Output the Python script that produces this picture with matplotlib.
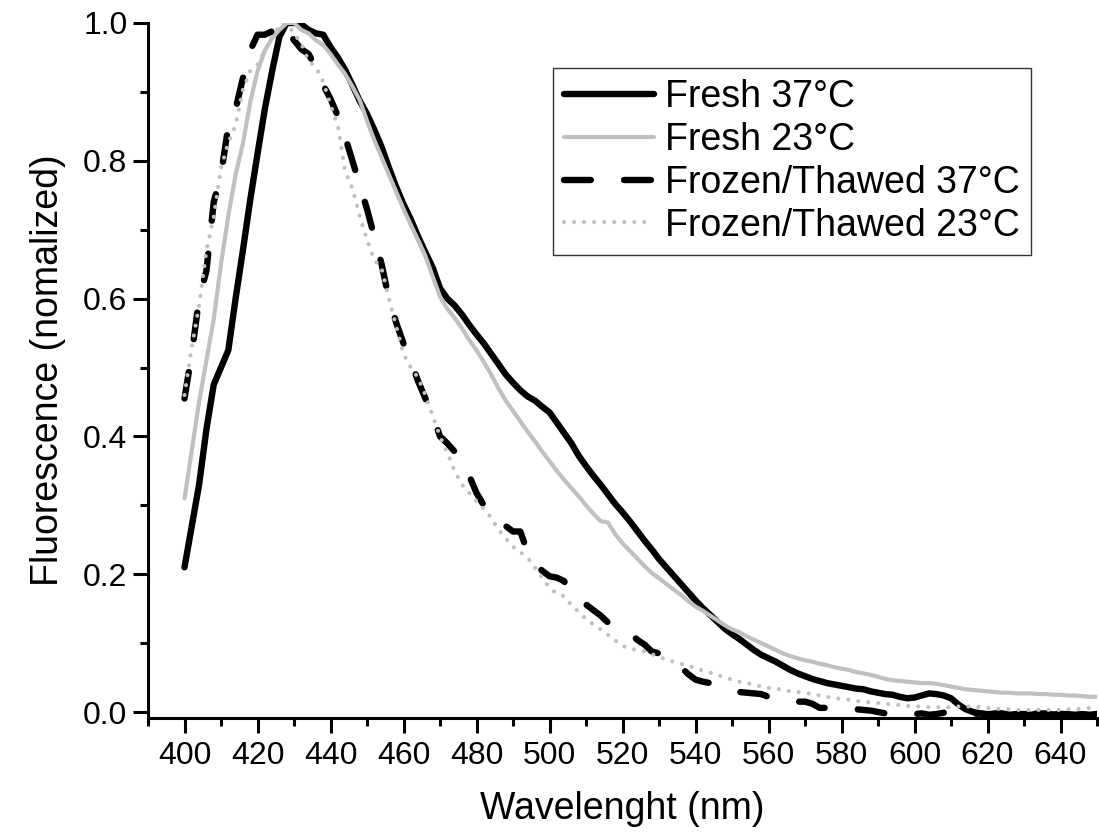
import matplotlib
matplotlib.use("Agg")
import matplotlib.pyplot as plt
import numpy as np
from matplotlib.ticker import MultipleLocator

plt.rcParams['font.family'] = ['Liberation Sans', 'DejaVu Sans']

# wavelength grid (nm)
wavelength = np.arange(400, 651, 2)

fresh_37 = [
    0.210, 0.270, 0.330, 0.410, 0.475, 0.500, 0.525, 0.600, 0.670, 0.743,
    0.810, 0.875, 0.930, 0.980, 1.000, 1.000, 0.998, 0.990, 0.985, 0.983,
    0.965, 0.950, 0.932, 0.910, 0.887, 0.868, 0.845, 0.820, 0.790, 0.762,
    0.737, 0.715, 0.690, 0.667, 0.645, 0.615, 0.600, 0.590, 0.577, 0.562,
    0.548, 0.535, 0.520, 0.505, 0.490, 0.478, 0.467, 0.458, 0.452, 0.443,
    0.435, 0.420, 0.405, 0.390, 0.372, 0.357, 0.343, 0.330, 0.316, 0.302,
    0.290, 0.277, 0.263, 0.249, 0.236, 0.222, 0.210, 0.198, 0.186, 0.174,
    0.162, 0.151, 0.141, 0.131, 0.121, 0.113, 0.106, 0.098, 0.090, 0.083,
    0.078, 0.073, 0.067, 0.061, 0.056, 0.052, 0.048, 0.045, 0.042, 0.040,
    0.038, 0.036, 0.034, 0.033, 0.030, 0.028, 0.026, 0.025, 0.022, 0.020,
    0.021, 0.024, 0.027, 0.026, 0.024, 0.020, 0.011, 0.004, 0.000, -0.002,
    -0.003, -0.003, -0.002, -0.004, -0.003, -0.003, -0.004, -0.002, -0.003, -0.004,
    -0.003, -0.003, -0.004, -0.003, -0.004, -0.003,
]

fresh_23 = [
    0.310, 0.380, 0.450, 0.510, 0.570, 0.650, 0.720, 0.780, 0.825, 0.885,
    0.930, 0.960, 0.978, 0.990, 1.000, 1.000, 0.990, 0.985, 0.975, 0.968,
    0.955, 0.940, 0.926, 0.908, 0.888, 0.858, 0.830, 0.805, 0.780, 0.755,
    0.730, 0.707, 0.685, 0.662, 0.632, 0.603, 0.585, 0.572, 0.557, 0.540,
    0.525, 0.508, 0.490, 0.470, 0.452, 0.437, 0.422, 0.407, 0.393, 0.378,
    0.364, 0.350, 0.337, 0.325, 0.313, 0.300, 0.288, 0.277, 0.275, 0.258,
    0.245, 0.234, 0.223, 0.212, 0.202, 0.194, 0.186, 0.178, 0.170, 0.161,
    0.153, 0.147, 0.140, 0.133, 0.126, 0.120, 0.116, 0.110, 0.105, 0.100,
    0.095, 0.090, 0.085, 0.081, 0.078, 0.075, 0.073, 0.070, 0.068, 0.065,
    0.063, 0.061, 0.058, 0.056, 0.054, 0.051, 0.048, 0.046, 0.045, 0.044,
    0.043, 0.042, 0.042, 0.041, 0.039, 0.037, 0.035, 0.033, 0.032, 0.031,
    0.030, 0.029, 0.028, 0.028, 0.027, 0.027, 0.027, 0.026, 0.026, 0.025,
    0.025, 0.024, 0.024, 0.023, 0.022, 0.022,
]

frozen_37 = [
    0.455, 0.520, 0.600, 0.640, 0.740, 0.780, 0.850, 0.875, 0.920, 0.960,
    0.983, 0.983, 0.988, 1.000, 0.990, 0.975, 0.962, 0.955, 0.935, 0.910,
    0.890, 0.865, 0.835, 0.800, 0.765, 0.730, 0.690, 0.650, 0.600, 0.565,
    0.535, 0.510, 0.480, 0.455, 0.430, 0.400, 0.390, 0.378, 0.360, 0.343,
    0.318, 0.300, 0.290, 0.280, 0.270, 0.262, 0.262, 0.232, 0.215, 0.205,
    0.197, 0.195, 0.190, 0.170, 0.160, 0.156, 0.148, 0.140, 0.130, 0.125,
    0.120, 0.115, 0.105, 0.098, 0.088, 0.085, 0.078, 0.074, 0.065, 0.055,
    0.047, 0.044, 0.042, 0.040, 0.036, 0.032, 0.029, 0.028, 0.027, 0.026,
    0.022, 0.018, 0.016, 0.015, 0.015, 0.015, 0.012, 0.006, 0.006, 0.006,
    0.006, 0.005, 0.004, 0.003, 0.002, 0.000, -0.002, -0.003, -0.004, -0.002,
    -0.003, -0.002, -0.004, -0.003, -0.001, -0.004, -0.003, 0.000, -0.003, -0.002,
    -0.004, -0.002, -0.003, -0.001, -0.003, -0.004, -0.002, -0.003, -0.002, -0.004,
    -0.003, -0.002, -0.003, -0.004, -0.003, -0.003,
]

frozen_23 = [
    0.460, 0.530, 0.590, 0.670, 0.718, 0.790, 0.826, 0.852, 0.903, 0.930,
    0.940, 0.960, 0.980, 0.995, 1.000, 0.985, 0.970, 0.945, 0.936, 0.915,
    0.881, 0.852, 0.785, 0.760, 0.720, 0.685, 0.656, 0.644, 0.600, 0.560,
    0.520, 0.500, 0.485, 0.460, 0.430, 0.400, 0.376, 0.350, 0.330, 0.318,
    0.306, 0.295, 0.282, 0.265, 0.252, 0.240, 0.232, 0.224, 0.210, 0.195,
    0.180, 0.172, 0.168, 0.155, 0.145, 0.135, 0.127, 0.120, 0.112, 0.104,
    0.096, 0.092, 0.090, 0.088, 0.084, 0.080, 0.076, 0.073, 0.070, 0.067,
    0.064, 0.060, 0.057, 0.054, 0.050, 0.047, 0.044, 0.042, 0.040, 0.037,
    0.035, 0.034, 0.032, 0.030, 0.029, 0.028, 0.026, 0.024, 0.022, 0.020,
    0.019, 0.018, 0.016, 0.015, 0.014, 0.013, 0.012, 0.011, 0.010, 0.009,
    0.008, 0.008, 0.007, 0.007, 0.007, 0.007, 0.008, 0.008, 0.008, 0.007,
    0.006, 0.005, 0.004, 0.004, 0.003, 0.003, 0.003, 0.003, 0.003, 0.003,
    0.003, 0.004, 0.004, 0.005, 0.006, 0.006,
]

labels = ["Fresh 37°C", "Fresh 23°C", "Frozen/Thawed 37°C", "Frozen/Thawed 23°C"]

grey = "#c0c0c0"

fig = plt.figure(figsize=(10.99, 8.39), dpi=100)
ax = fig.add_axes([148 / 1099, (839 - 718) / 839, (1097 - 148) / 1099, (718 - 23) / 839])

ax.plot(wavelength, fresh_37, color="black", lw=4.6, label=labels[0],
        solid_capstyle="round", solid_joinstyle="round")
ax.plot(wavelength, fresh_23, color=grey, lw=3.0, label=labels[1],
        solid_capstyle="round", solid_joinstyle="round")
ax.plot(wavelength, frozen_37, color="black", lw=4.6, label=labels[2],
        linestyle=(0, (4.2, 5.2)), dash_capstyle="round")
ax.plot(wavelength, frozen_23, color=grey, lw=3.0, label=labels[3],
        linestyle=(0, (0.01, 2.4)), dash_capstyle="round")

ax.set_xlim(390, 650)
ax.set_ylim(-0.0087, 1.0)

ax.xaxis.set_minor_locator(MultipleLocator(10))
ax.yaxis.set_minor_locator(MultipleLocator(0.1))
ax.set_xticks(np.arange(400, 641, 20))
ax.set_yticks(np.arange(0, 1.01, 0.2))
ax.set_yticklabels([f"{v:.1f}" for v in np.arange(0, 1.01, 0.2)])

for side in ["top", "right"]:
    ax.spines[side].set_visible(False)
for side in ["left", "bottom"]:
    ax.spines[side].set_linewidth(2.2)

ax.tick_params(which="major", direction="out", length=10.8, width=2.2, labelsize=23)
ax.tick_params(which="minor", direction="out", length=5.5, width=2.2)
ax.tick_params(axis="x", which="major", pad=6)
ax.tick_params(axis="y", which="major", pad=4)

ax.set_xlabel("Wavelenght (nm)", fontsize=27, labelpad=14)
ax.set_ylabel("Fluorescence (nomalized)", fontsize=27, labelpad=12)

leg = ax.legend(loc="upper left", bbox_to_anchor=(553 / 1099, 1 - 68 / 839),
                bbox_transform=fig.transFigure, borderaxespad=0, fontsize=27,
                frameon=True, fancybox=False, edgecolor="black",
                handlelength=2.4, handletextpad=0.28, labelspacing=0.18,
                borderpad=0.3)
leg.get_frame().set_linewidth(1.0)

fig.savefig("out.png", dpi=100)
